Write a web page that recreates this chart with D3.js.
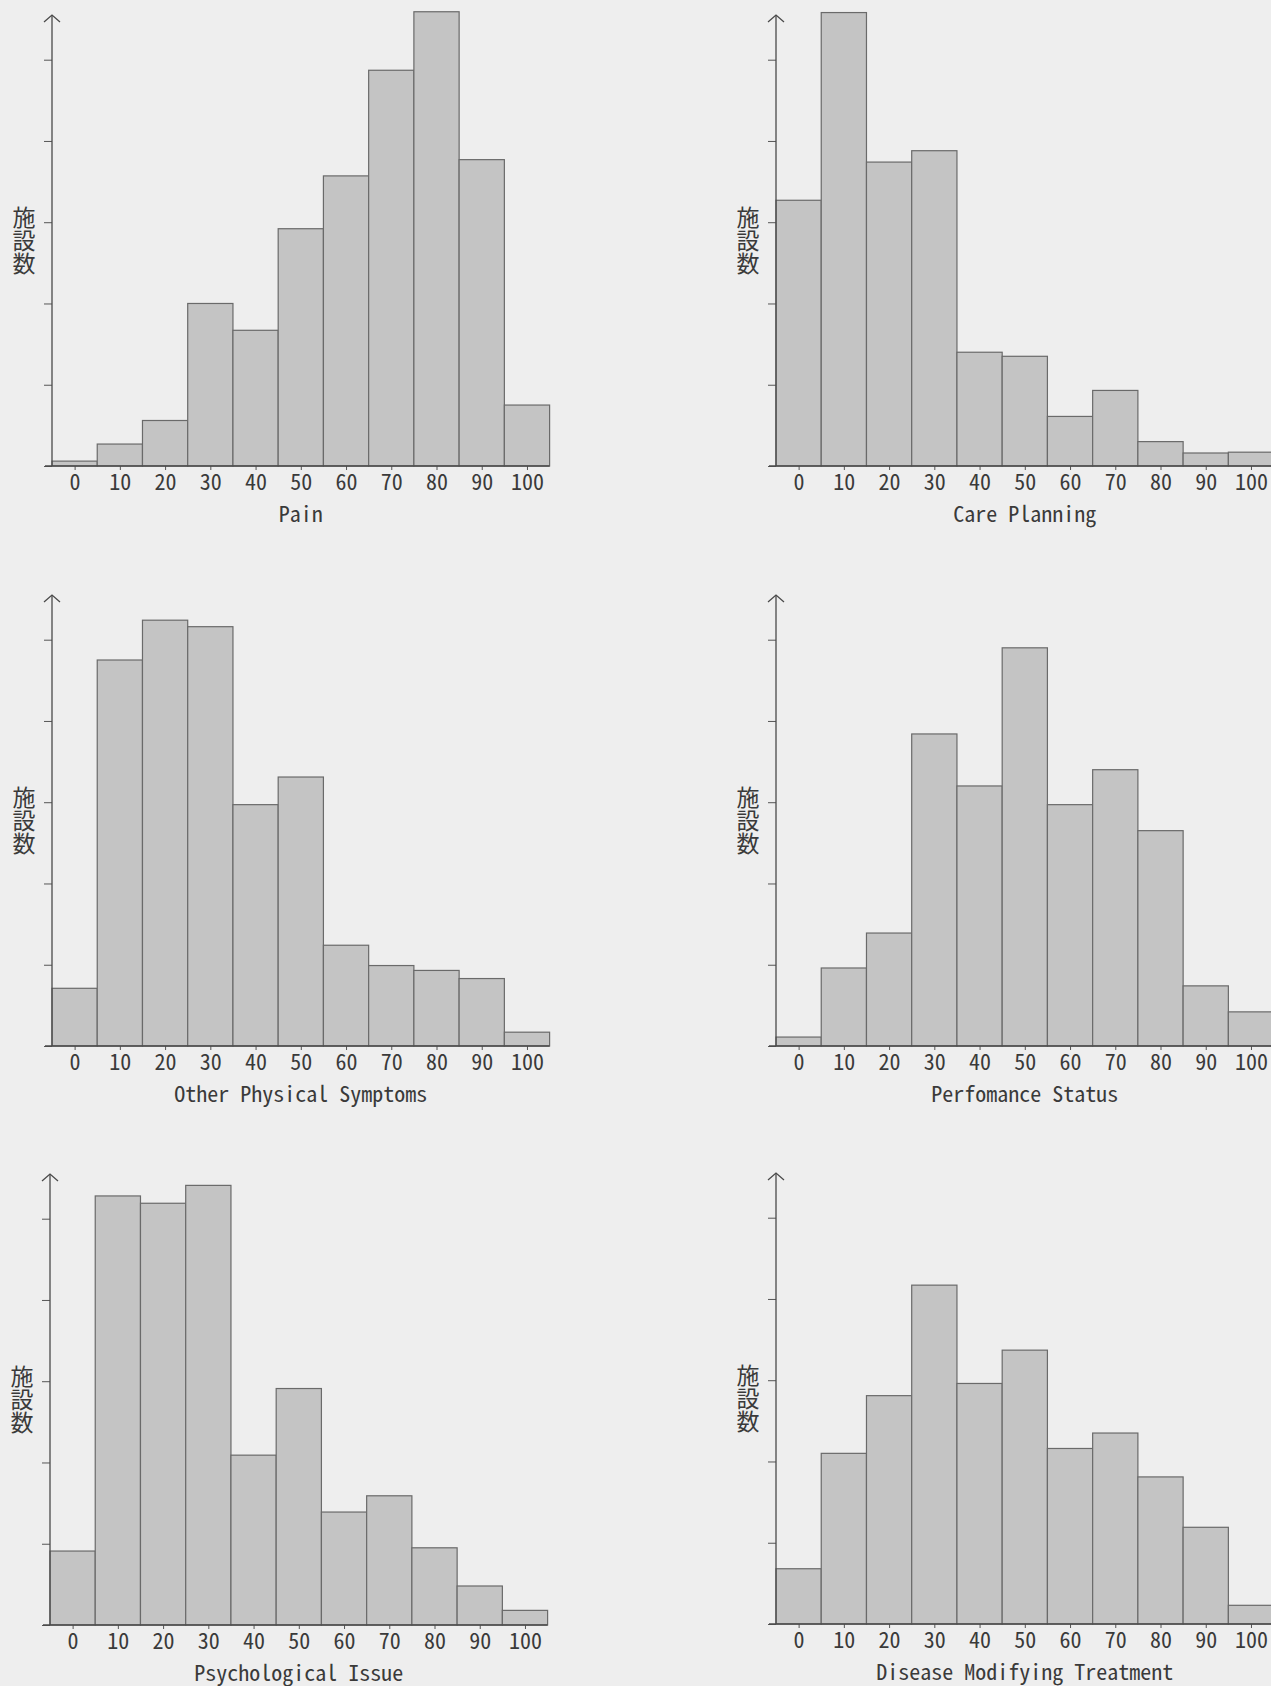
<!DOCTYPE html>
<html>
<head>
<meta charset="utf-8">
<script src="https://cdn.jsdelivr.net/npm/d3@7"></script>
<style>
    body { margin: 0; background: #eeeeee; }
    svg { display: block; }
</style>
</head>
<body>
<div id="showBox"></div>
<script>
// bin centres on the x axis
const bins = [0, 10, 20, 30, 40, 50, 60, 70, 80, 90, 100]
const yTicks = [0, 10, 20, 30, 40, 50]
const yLabel = "施設数"

// heights (unit = 1/10 of a y tick step)
const pain = [0.6, 2.7, 5.6, 20.0, 16.7, 29.2, 35.7, 48.7, 55.9, 37.7, 7.5]
const carePlanning = [32.7, 55.8, 37.4, 38.8, 14.0, 13.5, 6.1, 9.3, 3.0, 1.6, 1.7]
const otherPhysical = [7.1, 47.5, 52.4, 51.6, 29.7, 33.1, 12.4, 9.9, 9.3, 8.3, 1.7]
const performance = [1.1, 9.6, 13.9, 38.4, 32.0, 49.0, 29.7, 34.0, 26.5, 7.4, 4.2]
const psychological = [9.1, 52.8, 51.9, 54.1, 20.9, 29.1, 13.9, 15.9, 9.5, 4.8, 1.8]
const diseaseModifying = [6.8, 21.0, 28.1, 41.7, 29.6, 33.7, 21.6, 23.5, 18.1, 11.9, 2.3]

const titles = ["Pain", "Care Planning", "Other Physical Symptoms",
    "Perfomance Status", "Psychological Issue", "Disease Modifying Treatment"]
const series = [pain, carePlanning, otherPhysical, performance, psychological, diseaseModifying]

// where each panel sits: y-axis x position and baseline y
const layout = [
    {x: 52, base: 466}, {x: 776, base: 466},
    {x: 52, base: 1046}, {x: 776, base: 1046},
    {x: 50, base: 1625}, {x: 776, base: 1624}
]

const W = 1271, H = 1686
const ink = "#3a3a3a"
const monoFont = "'Noto Sans Mono CJK JP', 'Liberation Mono', monospace"

const svg = d3.select("#showBox").append("svg")
    .attr("width", W).attr("height", H)

svg.append("rect").attr("width", W).attr("height", H).attr("fill", "#eeeeee")

const x = d3.scaleLinear().domain([-5, 105]).range([0, 497.6])
const y = d3.scaleLinear().domain([0, 55.5]).range([0, -451])

function drawPanel(values, title, pos) {
    const g = svg.append("g").attr("transform", `translate(${pos.x},${pos.base})`)

    // bars
    g.append("g")
        .selectAll("rect")
        .data(values)
        .join("rect")
        .attr("x", (d, i) => x(bins[i] - 5))
        .attr("width", (d, i) => x(bins[i] + 5) - x(bins[i] - 5))
        .attr("y", d => y(d))
        .attr("height", d => -y(d))
        .attr("fill", "#c4c4c4")
        .attr("stroke", "#6a6a6a")
        .attr("stroke-width", 1.2)

    // y axis: ticks only, no labels
    const ya = g.append("g")
        .call(d3.axisLeft(y).tickValues(yTicks).tickSize(8).tickFormat(""))
    ya.select(".domain").remove()
    ya.selectAll("line").attr("stroke", "#555")

    g.append("line")
        .attr("x1", 0).attr("x2", 0)
        .attr("y1", 0).attr("y2", y(55.5))
        .attr("stroke", "#4a4a4a").attr("stroke-width", 1.3)

    // open arrow head
    g.append("path")
        .attr("d", `M-8,${y(55.5) + 7}L0,${y(55.5)}L8,${y(55.5) + 7}`)
        .attr("fill", "none").attr("stroke", "#4a4a4a").attr("stroke-width", 1.3)

    // x axis
    const xa = g.append("g")
        .call(d3.axisBottom(x).tickValues(bins).tickSize(4).tickPadding(4))
    xa.select(".domain").remove()
    xa.selectAll("line").attr("stroke", "#555")
    xa.selectAll("text")
        .attr("font-family", monoFont)
        .attr("font-size", 22)
        .attr("fill", ink)

    g.append("line")
        .attr("x1", -7).attr("x2", x(105))
        .attr("y1", 0).attr("y2", 0)
        .attr("stroke", "#4a4a4a").attr("stroke-width", 1.3)

    g.append("text")
        .attr("x", x(50))
        .attr("y", 48)
        .attr("dy", "0.35em")
        .attr("text-anchor", "middle")
        .attr("font-family", monoFont)
        .attr("font-size", 22)
        .attr("fill", ink)
        .text(title)

    // vertical japanese label
    g.append("text")
        .attr("x", -28)
        .attr("y", y(27.75))
        .attr("font-family", "'Noto Sans CJK JP', sans-serif")
        .attr("font-size", 23)
        .attr("fill", ink)
        .attr("text-anchor", "middle")
        .style("writing-mode", "vertical-rl")
        .text(yLabel)
}

series.forEach((s, i) => drawPanel(s, titles[i], layout[i]))
</script>
</body>
</html>
